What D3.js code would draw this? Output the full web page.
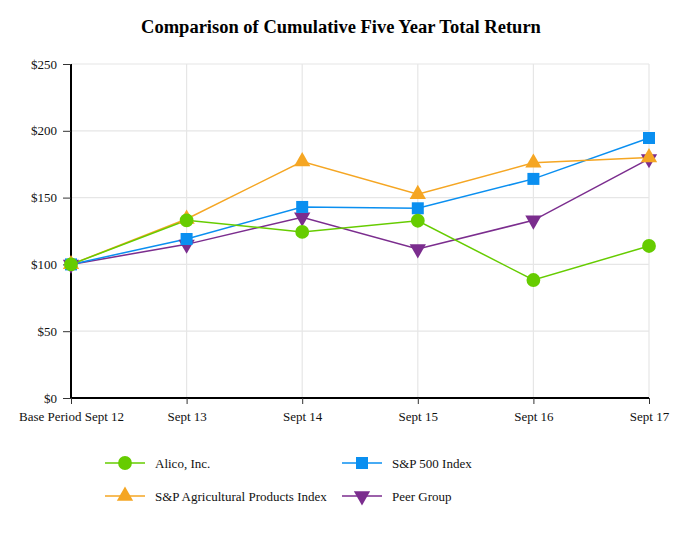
<!DOCTYPE html>
<html>
<head>
<meta charset="utf-8">
<script src="https://cdn.jsdelivr.net/npm/d3@7"></script>
<style>
  body { margin: 0; background: #fff; }
  text { font-family: "Liberation Serif", "Times New Roman", serif; }
</style>
</head>
<body>
<svg id="chart"></svg>
<script>
// Data
const periods = ["Base Period Sept 12", "Sept 13", "Sept 14", "Sept 15", "Sept 16", "Sept 17"];
const alico = [100, 133, 124.3, 132.7, 88.3, 113.8];
const sp500 = [100, 119, 143, 142, 164, 194.6];
const agProducts = [100, 134, 177, 152.5, 176, 180];
const peerGroup = [100, 115, 135.3, 111.5, 133, 179];
const yTicks = [0, 50, 100, 150, 200, 250];

const width = 682;
const height = 533;
const margin = { top: 64, left: 71, right: 33, bottom: 135 };

const series = [
    { name: "Alico, Inc.", values: alico, color: "#66cc00", symbol: d3.symbolCircle, size: 150, rotate: 0 },
    { name: "S&P 500 Index", values: sp500, color: "#0a8ff0", symbol: d3.symbolSquare, size: 144, rotate: 0 },
    { name: "S&P Agricultural Products Index", values: agProducts, color: "#f5a623", symbol: d3.symbolTriangle, size: 115, rotate: 0 },
    { name: "Peer Group", values: peerGroup, color: "#7b2d8e", symbol: d3.symbolTriangle, size: 115, rotate: 180 }
];
// draw order of the markers (Alico ends up on top)
const drawOrder = [3, 1, 2, 0];

const svg = d3.select("#chart").attr("width", width).attr("height", height);

const xScale = d3.scalePoint()
    .domain(periods)
    .range([margin.left, width - margin.right]);

const yScale = d3.scaleLinear()
    .domain([0, 250])
    .range([height - margin.bottom, margin.top]);

// Title
svg.append("text")
    .attr("x", 341)
    .attr("y", 33)
    .attr("text-anchor", "middle")
    .style("font-size", "18.5px")
    .style("font-weight", "bold")
    .text("Comparison of Cumulative Five Year Total Return");

// Gridlines
svg.append("g")
    .selectAll("line.h")
    .data(yTicks.slice(1))
    .join("line")
    .attr("x1", margin.left)
    .attr("x2", width - margin.right)
    .attr("y1", d => yScale(d))
    .attr("y2", d => yScale(d))
    .attr("stroke", "#e6e6e6")
    .attr("stroke-width", 1.2);

svg.append("g")
    .selectAll("line.v")
    .data(periods.slice(1))
    .join("line")
    .attr("x1", d => xScale(d))
    .attr("x2", d => xScale(d))
    .attr("y1", margin.top)
    .attr("y2", yScale(0))
    .attr("stroke", "#e6e6e6")
    .attr("stroke-width", 1.2);

// Axes
const xAxis = svg.append("g")
    .attr("transform", `translate(0,${yScale(0)})`)
    .call(d3.axisBottom(xScale).tickSize(6).tickPadding(8));

const yAxis = svg.append("g")
    .attr("transform", `translate(${margin.left},0)`)
    .call(d3.axisLeft(yScale).tickValues(yTicks).tickSize(8).tickPadding(6).tickFormat(d => "$" + d));

[xAxis, yAxis].forEach(ax => {
    ax.select(".domain").attr("stroke", "#000").attr("stroke-width", 2);
    ax.selectAll(".tick line").attr("stroke", "#333");
    ax.selectAll("text")
        .style("font-family", "'Liberation Serif', serif")
        .style("font-size", "13px")
        .attr("fill", "#111");
});
yAxis.select(".domain").attr("d", `M0,${yScale(250)}V${yScale(0)}`);
xAxis.select(".domain").attr("d", `M${margin.left},0H${width - margin.right}`);

// Lines and markers
const line = d3.line()
    .x((d, i) => xScale(periods[i]))
    .y(d => yScale(d));

drawOrder.forEach(k => {
    const s = series[k];
    svg.append("path")
        .datum(s.values)
        .attr("fill", "none")
        .attr("stroke", s.color)
        .attr("stroke-width", 1.5)
        .attr("d", line);
});

drawOrder.forEach(k => {
    const s = series[k];
    svg.append("g")
        .selectAll("path")
        .data(s.values)
        .join("path")
        .attr("d", d3.symbol().type(s.symbol).size(s.size))
        .attr("transform", (d, i) => `translate(${xScale(periods[i])},${yScale(d)}) rotate(${s.rotate})`)
        .attr("fill", s.color);
});

// Legend
const legendPos = [
    { x: 105, y: 463 },
    { x: 342, y: 463 },
    { x: 105, y: 496 },
    { x: 342, y: 496 }
];

series.forEach((s, i) => {
    const g = svg.append("g").attr("transform", `translate(${legendPos[i].x},${legendPos[i].y})`);
    g.append("line")
        .attr("x1", 0).attr("x2", 40)
        .attr("stroke", s.color)
        .attr("stroke-width", 1.5);
    g.append("path")
        .attr("d", d3.symbol().type(s.symbol).size(s.size))
        .attr("transform", `translate(20,0) rotate(${s.rotate})`)
        .attr("fill", s.color);
    g.append("text")
        .attr("x", 50)
        .attr("y", 4.5)
        .style("font-size", "13px")
        .attr("fill", "#111")
        .text(s.name);
});
</script>
</body>
</html>
